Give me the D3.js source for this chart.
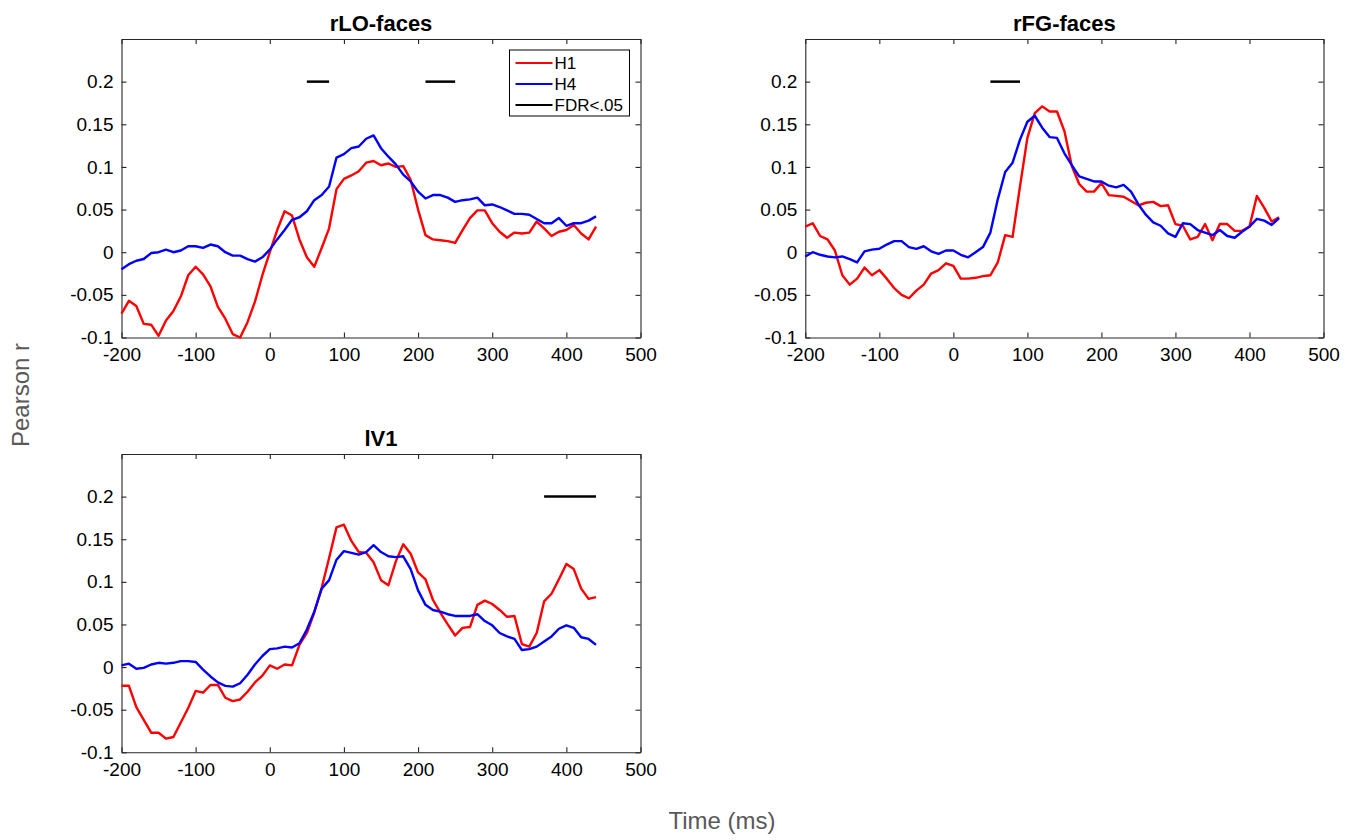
<!DOCTYPE html>
<html>
<head>
<meta charset="utf-8">
<script src="https://cdn.jsdelivr.net/npm/d3@7"></script>
<style>
  body { margin: 0; background: #fff; }
  svg { display: block; font-family: "Liberation Sans", Arial, Helvetica, sans-serif; }
</style>
</head>
<body>
<div id="chart"></div>
<script>
// sample times (ms)
const times = [-200,-190,-180,-170,-160,-150,-140,-130,-120,-110,-100,-90,-80,-70,-60,-50,-40,-30,-20,-10,
  0,10,20,30,40,50,60,70,80,90,100,110,120,130,140,150,160,170,180,190,200,210,220,230,240,250,260,270,280,290,
  300,310,320,330,340,350,360,370,380,390,400,410,420,430,440];

const xTicks = [-200, -100, 0, 100, 200, 300, 400, 500];
const yTicks = [-0.1, -0.05, 0, 0.05, 0.1, 0.15, 0.2];

// rLO-faces
const rloH1 = [-0.072,-0.057,-0.063,-0.084,-0.085,-0.098,-0.080,-0.069,-0.052,-0.027,-0.017,-0.026,-0.040,-0.064,-0.078,-0.096,-0.100,-0.082,-0.058,-0.027,
  0.000,0.026,0.048,0.043,0.015,-0.006,-0.017,0.005,0.028,0.074,0.086,0.090,0.095,0.105,0.107,
  0.102,0.104,0.100,0.101,0.085,0.050,0.020,0.015,0.014,0.013,0.011,0.026,0.040,0.049,0.049,
  0.034,0.024,0.017,0.023,0.022,0.023,0.036,0.028,0.019,0.024,0.026,0.032,0.022,0.015,0.030];
const rloH4 = [-0.020,-0.014,-0.010,-0.008,-0.001,0.000,0.003,0.000,0.002,0.007,0.007,0.005,0.009,0.007,0.000,-0.004,-0.004,-0.008,-0.011,-0.006,
  0.003,0.015,0.026,0.038,0.041,0.048,0.061,0.067,0.077,0.111,0.115,0.122,0.124,0.133,0.137,
  0.122,0.112,0.103,0.091,0.083,0.071,0.063,0.067,0.067,0.064,0.059,0.061,0.062,0.064,0.055,
  0.056,0.053,0.049,0.045,0.045,0.044,0.039,0.034,0.034,0.040,0.031,0.034,0.034,0.037,0.042];
const rloFdr = [[50, 80], [210, 250]];

// rFG-faces
const rfgH1 = [0.030,0.034,0.019,0.015,0.002,-0.027,-0.038,-0.031,-0.018,-0.027,-0.021,-0.031,-0.042,-0.050,-0.054,-0.045,-0.038,-0.025,-0.021,-0.013,
  -0.016,-0.031,-0.031,-0.030,-0.028,-0.027,-0.012,0.020,0.018,0.077,0.134,0.163,0.171,
  0.165,0.165,0.142,0.101,0.080,0.071,0.071,0.081,0.067,0.066,0.065,0.060,0.055,0.058,0.059,0.054,0.055,
  0.033,0.031,0.015,0.018,0.033,0.014,0.033,0.033,0.025,0.025,0.030,0.066,0.052,0.036,0.041];
const rfgH4 = [-0.005,0.000,-0.003,-0.005,-0.006,-0.005,-0.008,-0.012,0.001,0.003,0.004,0.009,
  0.013,0.013,0.006,0.004,0.007,0.001,-0.002,0.002,0.002,-0.003,-0.006,0.000,0.006,0.023,0.062,0.094,0.105,0.132,0.153,0.160,0.146,
  0.135,0.134,0.116,0.102,0.089,0.086,0.083,0.083,0.078,0.076,0.079,0.071,0.056,0.044,0.035,0.031,0.022,
  0.018,0.034,0.033,0.026,0.023,0.020,0.026,0.019,0.017,0.024,0.030,0.039,0.037,0.032,0.040];
const rfgFdr = [[50, 90]];

// lV1
const v1H1 = [-0.022,-0.022,-0.047,-0.062,-0.077,-0.077,-0.084,-0.082,-0.065,-0.048,-0.028,-0.030,-0.021,-0.021,-0.036,-0.040,-0.038,-0.029,-0.018,-0.010,
  0.002,-0.002,0.003,0.002,0.026,0.040,0.064,0.093,0.128,0.164,0.167,0.148,0.135,0.134,0.123,
  0.102,0.096,0.124,0.144,0.133,0.111,0.103,0.079,0.064,0.050,0.037,0.046,0.047,0.073,0.078,
  0.074,0.067,0.059,0.060,0.027,0.024,0.040,0.077,0.086,0.103,0.121,0.115,0.092,0.080,0.082];
const v1H4 = [0.002,0.004,-0.002,-0.001,0.003,0.005,0.004,0.005,0.007,0.007,0.006,-0.003,-0.011,-0.018,-0.022,-0.023,-0.019,-0.009,0.003,0.013,
  0.021,0.022,0.024,0.023,0.028,0.044,0.065,0.092,0.102,0.126,0.136,0.134,0.132,0.135,0.143,
  0.135,0.130,0.129,0.130,0.115,0.090,0.073,0.067,0.065,0.062,0.060,0.060,0.060,0.062,0.054,
  0.049,0.040,0.036,0.033,0.020,0.021,0.024,0.030,0.036,0.045,0.049,0.046,0.035,0.033,0.026];
const v1Fdr = [[370, 440]];

const legendNames = ["H1", "H4", "FDR<.05"];
const legendColors = ["#ff0000", "#0000ff", "#000000"];

const W = 1358, H = 840;
const axisColor = "#262626";

const svg = d3.select("#chart").append("svg")
  .attr("width", W)
  .attr("height", H);

/**
 * draw one panel
 */
function drawPanel(cfg){
  const x = d3.scaleLinear().domain([-200, 500]).range([0, cfg.w]);
  const y = d3.scaleLinear().domain([-0.1, 0.25]).range([cfg.h, 0]);

  const g = svg.append("g").attr("transform", "translate(" + cfg.x + "," + cfg.y + ")");

  // axes (ticks point inward, box all round)
  const fmtY = d => String(+d.toFixed(2));
  g.append("g").attr("transform", "translate(0," + cfg.h + ")")
    .call(d3.axisBottom(x).tickValues(xTicks).tickFormat(d => String(d)).tickSizeInner(-5).tickSizeOuter(0).tickPadding(10));
  g.append("g")
    .call(d3.axisLeft(y).tickValues(yTicks).tickFormat(fmtY).tickSizeInner(-5).tickSizeOuter(0).tickPadding(8));
  g.append("g")
    .call(d3.axisTop(x).tickValues(xTicks).tickFormat("").tickSizeInner(-5).tickSizeOuter(0));
  g.append("g").attr("transform", "translate(" + cfg.w + ",0)")
    .call(d3.axisRight(y).tickValues(yTicks).tickFormat("").tickSizeInner(-5).tickSizeOuter(0));

  g.selectAll(".domain").attr("stroke", axisColor).attr("stroke-width", 1.1);
  g.selectAll(".tick line").attr("stroke", axisColor).attr("stroke-width", 1.1);
  g.selectAll(".tick text").attr("fill", "#000").style("font-size", "19px");

  // title
  g.append("text")
    .attr("x", cfg.w/2).attr("y", -8)
    .attr("text-anchor", "middle")
    .style("font-size", "22px").style("font-weight", "bold")
    .text(cfg.title);

  const line = d3.line().x((d, i) => x(times[i])).y(d => y(d));

  g.append("path").datum(cfg.h1)
    .attr("d", line).attr("fill", "none")
    .attr("stroke", "#ff0000").attr("stroke-width", 2.4).attr("stroke-linejoin", "round");
  g.append("path").datum(cfg.h4)
    .attr("d", line).attr("fill", "none")
    .attr("stroke", "#0000ff").attr("stroke-width", 2.4).attr("stroke-linejoin", "round");

  // significance bars
  g.selectAll(".fdr").data(cfg.fdr).enter().append("line")
    .attr("x1", d => x(d[0])).attr("x2", d => x(d[1]))
    .attr("y1", y(0.2)).attr("y2", y(0.2))
    .attr("stroke", "#000").attr("stroke-width", 2.5);

  if ( cfg.legend ){
    const lg = g.append("g").attr("transform", "translate(" + (cfg.w - 131) + ",11)");
    lg.append("rect").attr("width", 120).attr("height", 66)
      .attr("fill", "#fff").attr("stroke", "#000").attr("stroke-width", 1);
    legendNames.forEach((name, i) => {
      const yy = 13 + i*21;
      lg.append("line").attr("x1", 6).attr("x2", 43).attr("y1", yy).attr("y2", yy)
        .attr("stroke", legendColors[i]).attr("stroke-width", 2.2);
      lg.append("text").attr("x", 45).attr("y", yy + 6)
        .style("font-size", "17px").text(name);
    });
  }
}

drawPanel({ title: "rLO-faces", x: 121.5, y: 39, w: 519, h: 298.5, h1: rloH1, h4: rloH4, fdr: rloFdr, legend: true });
drawPanel({ title: "rFG-faces", x: 805.3, y: 39, w: 518.2, h: 298.5, h1: rfgH1, h4: rfgH4, fdr: rfgFdr, legend: false });
drawPanel({ title: "lV1", x: 121.5, y: 454, w: 519, h: 298.3, h1: v1H1, h4: v1H4, fdr: v1Fdr, legend: false });

// shared labels
svg.append("text")
  .attr("transform", "translate(29,395) rotate(-90)")
  .attr("text-anchor", "middle")
  .attr("fill", "#595959")
  .style("font-size", "24px")
  .text("Pearson r");

svg.append("text")
  .attr("x", 722).attr("y", 829)
  .attr("text-anchor", "middle")
  .attr("fill", "#595959")
  .style("font-size", "24px")
  .text("Time (ms)");
</script>
</body>
</html>
